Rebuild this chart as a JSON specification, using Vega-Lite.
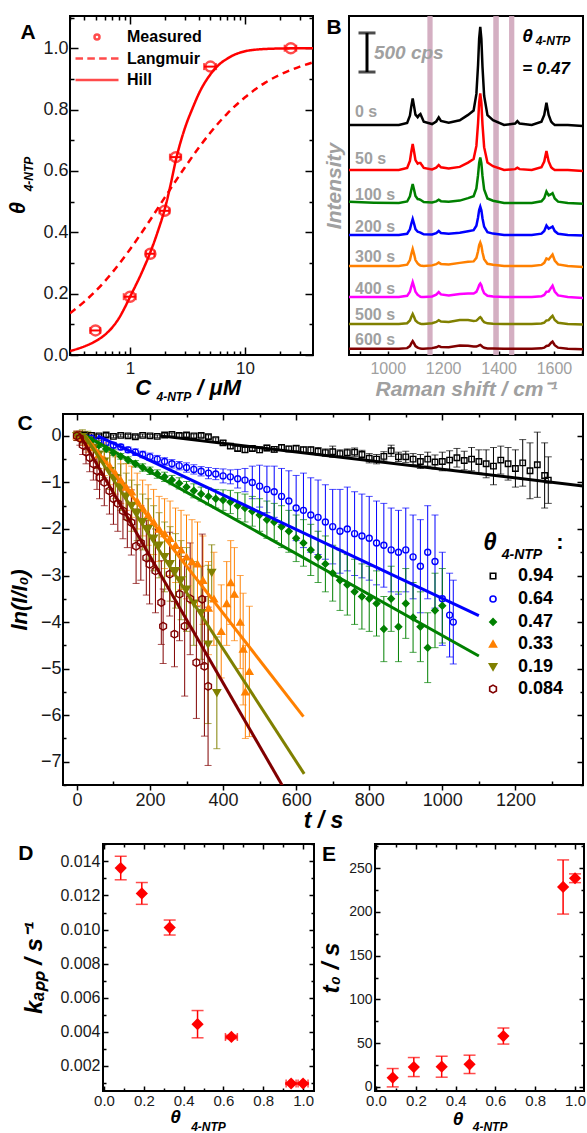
{
"$schema":"https://vega.github.io/schema/vega-lite/v6.json",
"background":"white",
"padding":{"left":6,"top":7,"right":0,"bottom":0},
"config":{"font":"Liberation Sans","view":{"stroke":"black","strokeWidth":2},
"axis":{"grid":false,"domain":false,"labelFont":"Liberation Sans","titleFont":"Liberation Sans","labelColor":"#1a1a1a","tickColor":"black","tickWidth":1.5,"labelFlush":false,"labelOverlap":false,"labelBound":false},
"legend":{"labelFont":"Liberation Sans"},"text":{"font":"Liberation Sans"}},
"resolve":{"scale":{"color":"independent","shape":"independent","fill":"independent","stroke":"independent","size":"independent","strokeDash":"independent"},"legend":{"color":"independent","shape":"independent","fill":"independent","stroke":"independent","size":"independent","strokeDash":"independent"}},
"datasets":{
"afit":[
{"series":"Langmuir","c":0.3,"th":0.136},{"series":"Langmuir","c":0.4,"th":0.174},{"series":"Langmuir","c":0.5,"th":0.208},{"series":"Langmuir","c":0.7,"th":0.269},{"series":"Langmuir","c":1,"th":0.345},{"series":"Langmuir","c":1.5,"th":0.441},{"series":"Langmuir","c":2,"th":0.513},{"series":"Langmuir","c":3,"th":0.612},{"series":"Langmuir","c":4,"th":0.678},{"series":"Langmuir","c":5,"th":0.725},{"series":"Langmuir","c":7,"th":0.787},{"series":"Langmuir","c":10,"th":0.84},{"series":"Langmuir","c":15,"th":0.888},{"series":"Langmuir","c":20,"th":0.913},{"series":"Langmuir","c":30,"th":0.94},{"series":"Langmuir","c":39,"th":0.954},
{"series":"Hill","c":0.3,"th":0.013},{"series":"Hill","c":0.4,"th":0.028},{"series":"Hill","c":0.5,"th":0.045},{"series":"Hill","c":0.6,"th":0.065},{"series":"Hill","c":0.7,"th":0.09},{"series":"Hill","c":0.8,"th":0.12},{"series":"Hill","c":0.9,"th":0.155},{"series":"Hill","c":1,"th":0.19},{"series":"Hill","c":1.25,"th":0.265},{"series":"Hill","c":1.5,"th":0.335},{"series":"Hill","c":1.75,"th":0.405},{"series":"Hill","c":2,"th":0.475},{"series":"Hill","c":2.25,"th":0.555},{"series":"Hill","c":2.5,"th":0.635},{"series":"Hill","c":3,"th":0.74},{"series":"Hill","c":3.5,"th":0.805},{"series":"Hill","c":4,"th":0.855},{"series":"Hill","c":5,"th":0.915},{"series":"Hill","c":6,"th":0.948},{"series":"Hill","c":7,"th":0.966},{"series":"Hill","c":8,"th":0.978},{"series":"Hill","c":10,"th":0.99},{"series":"Hill","c":13,"th":0.996},{"series":"Hill","c":20,"th":0.999},{"series":"Hill","c":39,"th":1.0}],
"ameas":[
{"series":"Measured","c":0.5,"th":0.08,"ce":0.05},{"series":"Measured","c":1.0,"th":0.19,"ce":0.12},{"series":"Measured","c":1.5,"th":0.33,"ce":0.13},{"series":"Measured","c":2.0,"th":0.47,"ce":0.2},{"series":"Measured","c":2.5,"th":0.645,"ce":0.28},{"series":"Measured","c":5,"th":0.94,"ce":0.6},{"series":"Measured","c":25,"th":1.0,"ce":2.9}],
"bands":[{"lo":1143,"hi":1162},{"lo":1381,"hi":1401},{"lo":1438,"hi":1457}],
"blabels":[{"s":"0 s","x":881.7,"y":3104},{"s":"50 s","x":881.7,"y":2515},{"s":"100 s","x":881.7,"y":2048},{"s":"200 s","x":881.7,"y":1638},{"s":"300 s","x":881.7,"y":1254},{"s":"400 s","x":881.7,"y":851},{"s":"500 s","x":881.7,"y":512},{"s":"600 s","x":881.7,"y":192}],
"spec":[
{"s":"0 s","x":860,"y":2944},{"s":"0 s","x":950,"y":2944},{"s":"0 s","x":1040,"y":2944},{"s":"0 s","x":1070,"y":2971},{"s":"0 s","x":1080,"y":3063},{"s":"0 s","x":1085,"y":3182},{"s":"0 s","x":1090,"y":3284},{"s":"0 s","x":1095,"y":3182},{"s":"0 s","x":1100,"y":3077},{"s":"0 s","x":1108,"y":3044},{"s":"0 s","x":1113,"y":3069},{"s":"0 s","x":1118,"y":3084},{"s":"0 s","x":1123,"y":3042},{"s":"0 s","x":1130,"y":2986},{"s":"0 s","x":1160,"y":2956},{"s":"0 s","x":1175,"y":2989},{"s":"0 s","x":1184,"y":3042},{"s":"0 s","x":1192,"y":2995},{"s":"0 s","x":1220,"y":2974},{"s":"0 s","x":1260,"y":3004},{"s":"0 s","x":1290,"y":3073},{"s":"0 s","x":1310,"y":3129},{"s":"0 s","x":1320,"y":3342},{"s":"0 s","x":1326,"y":3709},{"s":"0 s","x":1330,"y":4052},{"s":"0 s","x":1334,"y":4201},{"s":"0 s","x":1338,"y":4046},{"s":"0 s","x":1342,"y":3691},{"s":"0 s","x":1348,"y":3318},{"s":"0 s","x":1360,"y":3069},{"s":"0 s","x":1380,"y":3006},{"s":"0 s","x":1420,"y":2944},{"s":"0 s","x":1460,"y":2962},{"s":"0 s","x":1468,"y":2994},{"s":"0 s","x":1476,"y":2962},{"s":"0 s","x":1520,"y":2944},{"s":"0 s","x":1555,"y":2987},{"s":"0 s","x":1565,"y":3072},{"s":"0 s","x":1573,"y":3229},{"s":"0 s","x":1581,"y":3072},{"s":"0 s","x":1590,"y":2987},{"s":"0 s","x":1595,"y":2967},{"s":"0 s","x":1603,"y":2944},{"s":"0 s","x":1615,"y":2944},{"s":"0 s","x":1650,"y":2944},{"s":"0 s","x":1705,"y":2930},
{"s":"50 s","x":860,"y":2368},{"s":"50 s","x":950,"y":2368},{"s":"50 s","x":1040,"y":2368},{"s":"50 s","x":1070,"y":2395},{"s":"50 s","x":1080,"y":2485},{"s":"50 s","x":1085,"y":2601},{"s":"50 s","x":1090,"y":2701},{"s":"50 s","x":1095,"y":2601},{"s":"50 s","x":1100,"y":2494},{"s":"50 s","x":1108,"y":2450},{"s":"50 s","x":1113,"y":2458},{"s":"50 s","x":1118,"y":2458},{"s":"50 s","x":1123,"y":2431},{"s":"50 s","x":1130,"y":2395},{"s":"50 s","x":1160,"y":2376},{"s":"50 s","x":1175,"y":2398},{"s":"50 s","x":1184,"y":2432},{"s":"50 s","x":1192,"y":2402},{"s":"50 s","x":1220,"y":2388},{"s":"50 s","x":1260,"y":2408},{"s":"50 s","x":1290,"y":2462},{"s":"50 s","x":1310,"y":2509},{"s":"50 s","x":1320,"y":2676},{"s":"50 s","x":1326,"y":2964},{"s":"50 s","x":1330,"y":3232},{"s":"50 s","x":1334,"y":3349},{"s":"50 s","x":1338,"y":3228},{"s":"50 s","x":1342,"y":2952},{"s":"50 s","x":1348,"y":2660},{"s":"50 s","x":1360,"y":2465},{"s":"50 s","x":1380,"y":2417},{"s":"50 s","x":1420,"y":2368},{"s":"50 s","x":1460,"y":2379},{"s":"50 s","x":1468,"y":2398},{"s":"50 s","x":1476,"y":2379},{"s":"50 s","x":1520,"y":2368},{"s":"50 s","x":1555,"y":2404},{"s":"50 s","x":1565,"y":2477},{"s":"50 s","x":1573,"y":2611},{"s":"50 s","x":1581,"y":2477},{"s":"50 s","x":1590,"y":2404},{"s":"50 s","x":1595,"y":2387},{"s":"50 s","x":1603,"y":2368},{"s":"50 s","x":1615,"y":2368},{"s":"50 s","x":1650,"y":2368},{"s":"50 s","x":1705,"y":2355},
{"s":"100 s","x":860,"y":1960},{"s":"100 s","x":950,"y":1950},{"s":"100 s","x":1040,"y":1946},{"s":"100 s","x":1070,"y":1965},{"s":"100 s","x":1080,"y":2031},{"s":"100 s","x":1085,"y":2116},{"s":"100 s","x":1090,"y":2189},{"s":"100 s","x":1095,"y":2116},{"s":"100 s","x":1100,"y":2035},{"s":"100 s","x":1108,"y":1996},{"s":"100 s","x":1113,"y":1993},{"s":"100 s","x":1118,"y":1986},{"s":"100 s","x":1123,"y":1974},{"s":"100 s","x":1130,"y":1958},{"s":"100 s","x":1160,"y":1952},{"s":"100 s","x":1175,"y":1966},{"s":"100 s","x":1184,"y":1987},{"s":"100 s","x":1192,"y":1969},{"s":"100 s","x":1220,"y":1961},{"s":"100 s","x":1260,"y":1976},{"s":"100 s","x":1290,"y":2008},{"s":"100 s","x":1310,"y":2033},{"s":"100 s","x":1320,"y":2131},{"s":"100 s","x":1326,"y":2301},{"s":"100 s","x":1330,"y":2459},{"s":"100 s","x":1334,"y":2528},{"s":"100 s","x":1338,"y":2456},{"s":"100 s","x":1342,"y":2292},{"s":"100 s","x":1348,"y":2119},{"s":"100 s","x":1360,"y":2004},{"s":"100 s","x":1380,"y":1975},{"s":"100 s","x":1420,"y":1946},{"s":"100 s","x":1460,"y":1946},{"s":"100 s","x":1468,"y":1946},{"s":"100 s","x":1476,"y":1946},{"s":"100 s","x":1520,"y":1946},{"s":"100 s","x":1555,"y":1967},{"s":"100 s","x":1565,"y":2009},{"s":"100 s","x":1573,"y":2092},{"s":"100 s","x":1581,"y":2044},{"s":"100 s","x":1590,"y":2059},{"s":"100 s","x":1595,"y":2072},{"s":"100 s","x":1603,"y":2004},{"s":"100 s","x":1615,"y":1963},{"s":"100 s","x":1650,"y":1946},{"s":"100 s","x":1705,"y":1935},
{"s":"200 s","x":860,"y":1536},{"s":"200 s","x":950,"y":1536},{"s":"200 s","x":1040,"y":1536},{"s":"200 s","x":1070,"y":1552},{"s":"200 s","x":1080,"y":1608},{"s":"200 s","x":1085,"y":1680},{"s":"200 s","x":1090,"y":1741},{"s":"200 s","x":1095,"y":1680},{"s":"200 s","x":1100,"y":1611},{"s":"200 s","x":1108,"y":1578},{"s":"200 s","x":1113,"y":1573},{"s":"200 s","x":1118,"y":1566},{"s":"200 s","x":1123,"y":1557},{"s":"200 s","x":1130,"y":1545},{"s":"200 s","x":1160,"y":1542},{"s":"200 s","x":1175,"y":1559},{"s":"200 s","x":1184,"y":1587},{"s":"200 s","x":1192,"y":1562},{"s":"200 s","x":1220,"y":1551},{"s":"200 s","x":1260,"y":1566},{"s":"200 s","x":1290,"y":1584},{"s":"200 s","x":1310,"y":1597},{"s":"200 s","x":1320,"y":1655},{"s":"200 s","x":1326,"y":1760},{"s":"200 s","x":1330,"y":1857},{"s":"200 s","x":1334,"y":1900},{"s":"200 s","x":1338,"y":1854},{"s":"200 s","x":1342,"y":1751},{"s":"200 s","x":1348,"y":1643},{"s":"200 s","x":1360,"y":1572},{"s":"200 s","x":1380,"y":1554},{"s":"200 s","x":1420,"y":1536},{"s":"200 s","x":1460,"y":1536},{"s":"200 s","x":1468,"y":1536},{"s":"200 s","x":1476,"y":1536},{"s":"200 s","x":1520,"y":1536},{"s":"200 s","x":1555,"y":1553},{"s":"200 s","x":1565,"y":1588},{"s":"200 s","x":1573,"y":1656},{"s":"200 s","x":1581,"y":1618},{"s":"200 s","x":1590,"y":1633},{"s":"200 s","x":1595,"y":1645},{"s":"200 s","x":1603,"y":1586},{"s":"200 s","x":1615,"y":1551},{"s":"200 s","x":1650,"y":1536},{"s":"200 s","x":1705,"y":1530},
{"s":"300 s","x":860,"y":1139},{"s":"300 s","x":950,"y":1139},{"s":"300 s","x":1040,"y":1139},{"s":"300 s","x":1070,"y":1156},{"s":"300 s","x":1080,"y":1215},{"s":"300 s","x":1085,"y":1292},{"s":"300 s","x":1090,"y":1357},{"s":"300 s","x":1095,"y":1292},{"s":"300 s","x":1100,"y":1215},{"s":"300 s","x":1108,"y":1172},{"s":"300 s","x":1113,"y":1156},{"s":"300 s","x":1118,"y":1145},{"s":"300 s","x":1123,"y":1141},{"s":"300 s","x":1130,"y":1139},{"s":"300 s","x":1160,"y":1147},{"s":"300 s","x":1175,"y":1162},{"s":"300 s","x":1184,"y":1183},{"s":"300 s","x":1192,"y":1166},{"s":"300 s","x":1220,"y":1159},{"s":"300 s","x":1260,"y":1179},{"s":"300 s","x":1290,"y":1193},{"s":"300 s","x":1310,"y":1198},{"s":"300 s","x":1320,"y":1243},{"s":"300 s","x":1326,"y":1327},{"s":"300 s","x":1330,"y":1406},{"s":"300 s","x":1334,"y":1441},{"s":"300 s","x":1338,"y":1402},{"s":"300 s","x":1342,"y":1315},{"s":"300 s","x":1348,"y":1227},{"s":"300 s","x":1360,"y":1168},{"s":"300 s","x":1380,"y":1154},{"s":"300 s","x":1420,"y":1139},{"s":"300 s","x":1460,"y":1139},{"s":"300 s","x":1468,"y":1139},{"s":"300 s","x":1476,"y":1139},{"s":"300 s","x":1520,"y":1139},{"s":"300 s","x":1555,"y":1153},{"s":"300 s","x":1565,"y":1180},{"s":"300 s","x":1573,"y":1236},{"s":"300 s","x":1581,"y":1222},{"s":"300 s","x":1590,"y":1265},{"s":"300 s","x":1595,"y":1286},{"s":"300 s","x":1603,"y":1209},{"s":"300 s","x":1615,"y":1160},{"s":"300 s","x":1650,"y":1139},{"s":"300 s","x":1705,"y":1125},
{"s":"400 s","x":860,"y":742},{"s":"400 s","x":950,"y":742},{"s":"400 s","x":1040,"y":742},{"s":"400 s","x":1070,"y":757},{"s":"400 s","x":1080,"y":809},{"s":"400 s","x":1085,"y":876},{"s":"400 s","x":1090,"y":934},{"s":"400 s","x":1095,"y":876},{"s":"400 s","x":1100,"y":809},{"s":"400 s","x":1108,"y":771},{"s":"400 s","x":1113,"y":757},{"s":"400 s","x":1118,"y":745},{"s":"400 s","x":1123,"y":742},{"s":"400 s","x":1130,"y":742},{"s":"400 s","x":1160,"y":750},{"s":"400 s","x":1175,"y":772},{"s":"400 s","x":1184,"y":806},{"s":"400 s","x":1192,"y":776},{"s":"400 s","x":1220,"y":762},{"s":"400 s","x":1260,"y":782},{"s":"400 s","x":1290,"y":788},{"s":"400 s","x":1310,"y":786},{"s":"400 s","x":1320,"y":808},{"s":"400 s","x":1326,"y":854},{"s":"400 s","x":1330,"y":896},{"s":"400 s","x":1334,"y":916},{"s":"400 s","x":1338,"y":892},{"s":"400 s","x":1342,"y":842},{"s":"400 s","x":1348,"y":792},{"s":"400 s","x":1360,"y":759},{"s":"400 s","x":1380,"y":750},{"s":"400 s","x":1420,"y":742},{"s":"400 s","x":1460,"y":742},{"s":"400 s","x":1468,"y":742},{"s":"400 s","x":1476,"y":742},{"s":"400 s","x":1520,"y":742},{"s":"400 s","x":1555,"y":751},{"s":"400 s","x":1565,"y":769},{"s":"400 s","x":1573,"y":809},{"s":"400 s","x":1581,"y":811},{"s":"400 s","x":1590,"y":863},{"s":"400 s","x":1595,"y":887},{"s":"400 s","x":1603,"y":812},{"s":"400 s","x":1615,"y":763},{"s":"400 s","x":1650,"y":742},{"s":"400 s","x":1705,"y":730},
{"s":"500 s","x":860,"y":397},{"s":"500 s","x":950,"y":397},{"s":"500 s","x":1040,"y":397},{"s":"500 s","x":1070,"y":407},{"s":"500 s","x":1080,"y":442},{"s":"500 s","x":1085,"y":487},{"s":"500 s","x":1090,"y":525},{"s":"500 s","x":1095,"y":487},{"s":"500 s","x":1100,"y":442},{"s":"500 s","x":1108,"y":416},{"s":"500 s","x":1113,"y":407},{"s":"500 s","x":1118,"y":400},{"s":"500 s","x":1123,"y":397},{"s":"500 s","x":1130,"y":397},{"s":"500 s","x":1160,"y":407},{"s":"500 s","x":1175,"y":423},{"s":"500 s","x":1184,"y":445},{"s":"500 s","x":1192,"y":428},{"s":"500 s","x":1220,"y":422},{"s":"500 s","x":1260,"y":447},{"s":"500 s","x":1290,"y":447},{"s":"500 s","x":1310,"y":436},{"s":"500 s","x":1320,"y":440},{"s":"500 s","x":1326,"y":458},{"s":"500 s","x":1330,"y":475},{"s":"500 s","x":1334,"y":484},{"s":"500 s","x":1338,"y":470},{"s":"500 s","x":1342,"y":443},{"s":"500 s","x":1348,"y":420},{"s":"500 s","x":1360,"y":405},{"s":"500 s","x":1380,"y":401},{"s":"500 s","x":1420,"y":397},{"s":"500 s","x":1460,"y":397},{"s":"500 s","x":1468,"y":397},{"s":"500 s","x":1476,"y":397},{"s":"500 s","x":1520,"y":397},{"s":"500 s","x":1555,"y":403},{"s":"500 s","x":1565,"y":415},{"s":"500 s","x":1573,"y":442},{"s":"500 s","x":1581,"y":446},{"s":"500 s","x":1590,"y":485},{"s":"500 s","x":1595,"y":502},{"s":"500 s","x":1603,"y":448},{"s":"500 s","x":1615,"y":412},{"s":"500 s","x":1650,"y":397},{"s":"500 s","x":1705,"y":390},
{"s":"600 s","x":860,"y":80},{"s":"600 s","x":950,"y":80},{"s":"600 s","x":1040,"y":80},{"s":"600 s","x":1070,"y":88},{"s":"600 s","x":1080,"y":114},{"s":"600 s","x":1085,"y":149},{"s":"600 s","x":1090,"y":178},{"s":"600 s","x":1095,"y":149},{"s":"600 s","x":1100,"y":114},{"s":"600 s","x":1108,"y":95},{"s":"600 s","x":1113,"y":88},{"s":"600 s","x":1118,"y":82},{"s":"600 s","x":1123,"y":80},{"s":"600 s","x":1130,"y":80},{"s":"600 s","x":1160,"y":88},{"s":"600 s","x":1175,"y":99},{"s":"600 s","x":1184,"y":114},{"s":"600 s","x":1192,"y":103},{"s":"600 s","x":1220,"y":100},{"s":"600 s","x":1260,"y":120},{"s":"600 s","x":1290,"y":118},{"s":"600 s","x":1310,"y":109},{"s":"600 s","x":1320,"y":108},{"s":"600 s","x":1326,"y":116},{"s":"600 s","x":1330,"y":123},{"s":"600 s","x":1334,"y":128},{"s":"600 s","x":1338,"y":119},{"s":"600 s","x":1342,"y":104},{"s":"600 s","x":1348,"y":92},{"s":"600 s","x":1360,"y":84},{"s":"600 s","x":1380,"y":82},{"s":"600 s","x":1420,"y":80},{"s":"600 s","x":1460,"y":80},{"s":"600 s","x":1468,"y":80},{"s":"600 s","x":1476,"y":80},{"s":"600 s","x":1520,"y":80},{"s":"600 s","x":1555,"y":85},{"s":"600 s","x":1565,"y":94},{"s":"600 s","x":1573,"y":115},{"s":"600 s","x":1581,"y":121},{"s":"600 s","x":1590,"y":157},{"s":"600 s","x":1595,"y":172},{"s":"600 s","x":1603,"y":125},{"s":"600 s","x":1615,"y":94},{"s":"600 s","x":1650,"y":80},{"s":"600 s","x":1705,"y":75}],
"c":[
{"s":"0.94","t":0,"v":0,"e":0.03},{"s":"0.94","t":20,"v":0.02,"e":0.03},{"s":"0.94","t":40,"v":0.01,"e":0.03},{"s":"0.94","t":60,"v":0,"e":0.03},{"s":"0.94","t":80,"v":0.02,"e":0.03},{"s":"0.94","t":100,"v":-0.01,"e":0.03},{"s":"0.94","t":120,"v":0.01,"e":0.03},{"s":"0.94","t":140,"v":0,"e":0.03},{"s":"0.94","t":160,"v":-0.02,"e":0.03},{"s":"0.94","t":180,"v":0.01,"e":0.03},{"s":"0.94","t":200,"v":0,"e":0.03},{"s":"0.94","t":220,"v":-0.01,"e":0.03},{"s":"0.94","t":240,"v":0.02,"e":0.03},{"s":"0.94","t":260,"v":0.03,"e":0.03},{"s":"0.94","t":280,"v":0.01,"e":0.04},{"s":"0.94","t":300,"v":0.02,"e":0.04},{"s":"0.94","t":320,"v":0,"e":0.04},{"s":"0.94","t":340,"v":0.01,"e":0.04},{"s":"0.94","t":360,"v":-0.02,"e":0.04},{"s":"0.94","t":380,"v":-0.08,"e":0.04},{"s":"0.94","t":400,"v":-0.15,"e":0.05},{"s":"0.94","t":420,"v":-0.22,"e":0.05},{"s":"0.94","t":440,"v":-0.27,"e":0.05},{"s":"0.94","t":460,"v":-0.3,"e":0.05},{"s":"0.94","t":480,"v":-0.27,"e":0.05},{"s":"0.94","t":500,"v":-0.3,"e":0.06},{"s":"0.94","t":520,"v":-0.26,"e":0.06},{"s":"0.94","t":540,"v":-0.29,"e":0.06},{"s":"0.94","t":560,"v":-0.25,"e":0.06},{"s":"0.94","t":580,"v":-0.28,"e":0.06},{"s":"0.94","t":600,"v":-0.27,"e":0.07},{"s":"0.94","t":620,"v":-0.3,"e":0.07},{"s":"0.94","t":640,"v":-0.3,"e":0.07},{"s":"0.94","t":660,"v":-0.33,"e":0.08},{"s":"0.94","t":680,"v":-0.36,"e":0.08},{"s":"0.94","t":700,"v":-0.34,"e":0.12},{"s":"0.94","t":720,"v":-0.38,"e":0.08},{"s":"0.94","t":740,"v":-0.36,"e":0.08},{"s":"0.94","t":760,"v":-0.35,"e":0.09},{"s":"0.94","t":780,"v":-0.4,"e":0.09},{"s":"0.94","t":800,"v":-0.48,"e":0.1},{"s":"0.94","t":820,"v":-0.5,"e":0.1},{"s":"0.94","t":840,"v":-0.44,"e":0.1},{"s":"0.94","t":860,"v":-0.32,"e":0.12},{"s":"0.94","t":880,"v":-0.45,"e":0.1},{"s":"0.94","t":900,"v":-0.45,"e":0.12},{"s":"0.94","t":920,"v":-0.5,"e":0.12},{"s":"0.94","t":940,"v":-0.55,"e":0.15},{"s":"0.94","t":960,"v":-0.5,"e":0.15},{"s":"0.94","t":980,"v":-0.56,"e":0.15},{"s":"0.94","t":1000,"v":-0.55,"e":0.2},{"s":"0.94","t":1020,"v":-0.52,"e":0.2},{"s":"0.94","t":1040,"v":-0.47,"e":0.2},{"s":"0.94","t":1060,"v":-0.53,"e":0.2},{"s":"0.94","t":1080,"v":-0.5,"e":0.25},{"s":"0.94","t":1100,"v":-0.55,"e":0.25},{"s":"0.94","t":1120,"v":-0.6,"e":0.3},{"s":"0.94","t":1140,"v":-0.65,"e":0.4},{"s":"0.94","t":1160,"v":-0.52,"e":0.3},{"s":"0.94","t":1180,"v":-0.6,"e":0.35},{"s":"0.94","t":1200,"v":-0.7,"e":0.4},{"s":"0.94","t":1220,"v":-0.58,"e":0.5},{"s":"0.94","t":1240,"v":-0.75,"e":0.6},{"s":"0.94","t":1260,"v":-0.62,"e":0.7},{"s":"0.94","t":1280,"v":-0.85,"e":0.7},{"s":"0.94","t":1290,"v":-0.95,"e":0.5},
{"s":"0.64","t":0,"v":0,"e":0.05},{"s":"0.64","t":20,"v":-0.02,"e":0.05},{"s":"0.64","t":40,"v":-0.05,"e":0.05},{"s":"0.64","t":60,"v":-0.1,"e":0.05},{"s":"0.64","t":80,"v":-0.15,"e":0.05},{"s":"0.64","t":100,"v":-0.2,"e":0.06},{"s":"0.64","t":120,"v":-0.24,"e":0.06},{"s":"0.64","t":140,"v":-0.3,"e":0.06},{"s":"0.64","t":160,"v":-0.35,"e":0.07},{"s":"0.64","t":180,"v":-0.4,"e":0.07},{"s":"0.64","t":200,"v":-0.45,"e":0.08},{"s":"0.64","t":220,"v":-0.5,"e":0.08},{"s":"0.64","t":240,"v":-0.55,"e":0.08},{"s":"0.64","t":260,"v":-0.6,"e":0.09},{"s":"0.64","t":280,"v":-0.64,"e":0.09},{"s":"0.64","t":300,"v":-0.68,"e":0.1},{"s":"0.64","t":320,"v":-0.72,"e":0.1},{"s":"0.64","t":340,"v":-0.76,"e":0.1},{"s":"0.64","t":360,"v":-0.8,"e":0.12},{"s":"0.64","t":380,"v":-0.82,"e":0.12},{"s":"0.64","t":400,"v":-0.86,"e":0.15},{"s":"0.64","t":420,"v":-0.88,"e":0.15},{"s":"0.64","t":440,"v":-0.92,"e":0.2},{"s":"0.64","t":460,"v":-0.95,"e":0.25},{"s":"0.64","t":480,"v":-1.0,"e":0.35},{"s":"0.64","t":500,"v":-1.08,"e":0.45},{"s":"0.64","t":520,"v":-1.15,"e":0.5},{"s":"0.64","t":540,"v":-1.2,"e":0.55},{"s":"0.64","t":560,"v":-1.3,"e":0.6},{"s":"0.64","t":580,"v":-1.4,"e":0.65},{"s":"0.64","t":600,"v":-1.55,"e":0.7},{"s":"0.64","t":620,"v":-1.6,"e":0.8},{"s":"0.64","t":640,"v":-1.7,"e":0.8},{"s":"0.64","t":660,"v":-1.75,"e":0.8},{"s":"0.64","t":680,"v":-1.85,"e":0.8},{"s":"0.64","t":700,"v":-1.95,"e":0.8},{"s":"0.64","t":720,"v":-2.05,"e":0.9},{"s":"0.64","t":740,"v":-2.0,"e":0.9},{"s":"0.64","t":760,"v":-2.1,"e":0.9},{"s":"0.64","t":780,"v":-2.15,"e":0.9},{"s":"0.64","t":800,"v":-2.2,"e":0.9},{"s":"0.64","t":820,"v":-2.3,"e":0.9},{"s":"0.64","t":840,"v":-2.35,"e":0.9},{"s":"0.64","t":860,"v":-2.45,"e":0.9},{"s":"0.64","t":880,"v":-2.5,"e":0.9},{"s":"0.64","t":900,"v":-2.45,"e":0.9},{"s":"0.64","t":920,"v":-2.6,"e":0.9},{"s":"0.64","t":940,"v":-2.8,"e":1.0},{"s":"0.64","t":960,"v":-2.5,"e":1.0},{"s":"0.64","t":980,"v":-2.7,"e":1.0},{"s":"0.64","t":1000,"v":-3.5,"e":1.0},{"s":"0.64","t":1020,"v":-3.85,"e":0.9},{"s":"0.64","t":1030,"v":-4.0,"e":0.9},
{"s":"0.47","t":0,"v":0,"e":0.05},{"s":"0.47","t":20,"v":-0.03,"e":0.05},{"s":"0.47","t":40,"v":-0.1,"e":0.05},{"s":"0.47","t":60,"v":-0.2,"e":0.05},{"s":"0.47","t":80,"v":-0.28,"e":0.06},{"s":"0.47","t":100,"v":-0.36,"e":0.06},{"s":"0.47","t":120,"v":-0.44,"e":0.06},{"s":"0.47","t":140,"v":-0.52,"e":0.07},{"s":"0.47","t":160,"v":-0.6,"e":0.07},{"s":"0.47","t":180,"v":-0.68,"e":0.08},{"s":"0.47","t":200,"v":-0.75,"e":0.08},{"s":"0.47","t":220,"v":-0.82,"e":0.09},{"s":"0.47","t":240,"v":-0.88,"e":0.1},{"s":"0.47","t":260,"v":-0.95,"e":0.1},{"s":"0.47","t":280,"v":-1.02,"e":0.12},{"s":"0.47","t":300,"v":-1.1,"e":0.12},{"s":"0.47","t":320,"v":-1.18,"e":0.15},{"s":"0.47","t":340,"v":-1.25,"e":0.15},{"s":"0.47","t":360,"v":-1.3,"e":0.18},{"s":"0.47","t":380,"v":-1.35,"e":0.2},{"s":"0.47","t":400,"v":-1.38,"e":0.22},{"s":"0.47","t":420,"v":-1.42,"e":0.25},{"s":"0.47","t":440,"v":-1.5,"e":0.28},{"s":"0.47","t":460,"v":-1.55,"e":0.3},{"s":"0.47","t":480,"v":-1.62,"e":0.32},{"s":"0.47","t":500,"v":-1.7,"e":0.35},{"s":"0.47","t":520,"v":-1.8,"e":0.4},{"s":"0.47","t":540,"v":-1.85,"e":0.4},{"s":"0.47","t":560,"v":-1.95,"e":0.45},{"s":"0.47","t":580,"v":-2.05,"e":0.45},{"s":"0.47","t":600,"v":-2.2,"e":0.5},{"s":"0.47","t":620,"v":-2.3,"e":0.5},{"s":"0.47","t":640,"v":-2.45,"e":0.55},{"s":"0.47","t":660,"v":-2.6,"e":0.55},{"s":"0.47","t":680,"v":-2.75,"e":0.6},{"s":"0.47","t":700,"v":-2.95,"e":0.6},{"s":"0.47","t":720,"v":-3.1,"e":0.65},{"s":"0.47","t":740,"v":-3.2,"e":0.65},{"s":"0.47","t":760,"v":-3.35,"e":0.7},{"s":"0.47","t":780,"v":-3.45,"e":0.7},{"s":"0.47","t":800,"v":-3.5,"e":0.7},{"s":"0.47","t":820,"v":-3.6,"e":0.7},{"s":"0.47","t":840,"v":-4.15,"e":0.7},{"s":"0.47","t":860,"v":-3.5,"e":0.7},{"s":"0.47","t":880,"v":-4.1,"e":0.75},{"s":"0.47","t":900,"v":-3.6,"e":0.75},{"s":"0.47","t":920,"v":-3.9,"e":0.75},{"s":"0.47","t":940,"v":-4.1,"e":0.75},{"s":"0.47","t":960,"v":-4.55,"e":0.75},{"s":"0.47","t":980,"v":-3.75,"e":0.8},{"s":"0.47","t":1000,"v":-3.65,"e":0.8},
{"s":"0.33","t":0,"v":0,"e":0.1},{"s":"0.33","t":15,"v":-0.05,"e":0.15},{"s":"0.33","t":30,"v":-0.15,"e":0.2},{"s":"0.33","t":45,"v":-0.25,"e":0.25},{"s":"0.33","t":60,"v":-0.4,"e":0.3},{"s":"0.33","t":75,"v":-0.5,"e":0.35},{"s":"0.33","t":90,"v":-0.65,"e":0.4},{"s":"0.33","t":105,"v":-0.8,"e":0.45},{"s":"0.33","t":120,"v":-0.95,"e":0.5},{"s":"0.33","t":135,"v":-1.1,"e":0.5},{"s":"0.33","t":150,"v":-1.2,"e":0.55},{"s":"0.33","t":165,"v":-1.4,"e":0.6},{"s":"0.33","t":180,"v":-1.55,"e":0.6},{"s":"0.33","t":195,"v":-1.7,"e":0.65},{"s":"0.33","t":210,"v":-1.85,"e":0.7},{"s":"0.33","t":225,"v":-2.0,"e":0.7},{"s":"0.33","t":240,"v":-2.1,"e":0.75},{"s":"0.33","t":255,"v":-2.2,"e":0.8},{"s":"0.33","t":270,"v":-2.35,"e":0.8},{"s":"0.33","t":285,"v":-2.45,"e":0.85},{"s":"0.33","t":300,"v":-2.6,"e":0.9},{"s":"0.33","t":315,"v":-2.7,"e":0.9},{"s":"0.33","t":330,"v":-2.75,"e":0.9},{"s":"0.33","t":345,"v":-3.1,"e":0.95},{"s":"0.33","t":360,"v":-3.7,"e":1.0},{"s":"0.33","t":375,"v":-3.5,"e":1.0},{"s":"0.33","t":395,"v":-4.2,"e":1.0},{"s":"0.33","t":410,"v":-3.6,"e":0.9},{"s":"0.33","t":421,"v":-3.15,"e":0.9},{"s":"0.33","t":431,"v":-3.4,"e":1.0},{"s":"0.33","t":447,"v":-4.0,"e":1.0},{"s":"0.33","t":455,"v":-4.58,"e":1.2},{"s":"0.33","t":461,"v":-5.5,"e":1.0},{"s":"0.33","t":472,"v":-5.06,"e":1.4},
{"s":"0.19","t":0,"v":0,"e":0.1},{"s":"0.19","t":15,"v":-0.02,"e":0.15},{"s":"0.19","t":30,"v":-0.1,"e":0.2},{"s":"0.19","t":45,"v":-0.25,"e":0.25},{"s":"0.19","t":60,"v":-0.4,"e":0.3},{"s":"0.19","t":75,"v":-0.55,"e":0.35},{"s":"0.19","t":90,"v":-0.75,"e":0.4},{"s":"0.19","t":105,"v":-0.9,"e":0.45},{"s":"0.19","t":120,"v":-1.1,"e":0.5},{"s":"0.19","t":135,"v":-1.3,"e":0.5},{"s":"0.19","t":150,"v":-1.5,"e":0.55},{"s":"0.19","t":165,"v":-1.65,"e":0.6},{"s":"0.19","t":180,"v":-1.85,"e":0.6},{"s":"0.19","t":195,"v":-2.0,"e":0.65},{"s":"0.19","t":210,"v":-2.2,"e":0.7},{"s":"0.19","t":225,"v":-2.35,"e":0.7},{"s":"0.19","t":240,"v":-2.6,"e":0.75},{"s":"0.19","t":255,"v":-2.75,"e":0.8},{"s":"0.19","t":270,"v":-2.9,"e":0.8},{"s":"0.19","t":285,"v":-3.1,"e":0.85},{"s":"0.19","t":300,"v":-3.3,"e":0.9},{"s":"0.19","t":320,"v":-3.6,"e":0.9},{"s":"0.19","t":340,"v":-3.8,"e":1.0},{"s":"0.19","t":359,"v":-4.48,"e":1.7},{"s":"0.19","t":369,"v":-2.94,"e":0.6},{"s":"0.19","t":383,"v":-5.52,"e":1.2},
{"s":"0.084","t":0,"v":0,"e":0.1},{"s":"0.084","t":8,"v":-0.05,"e":0.15},{"s":"0.084","t":16,"v":-0.2,"e":0.2},{"s":"0.084","t":25,"v":-0.35,"e":0.25},{"s":"0.084","t":35,"v":-0.47,"e":0.3},{"s":"0.084","t":45,"v":-0.6,"e":0.35},{"s":"0.084","t":55,"v":-0.75,"e":0.4},{"s":"0.084","t":62,"v":-0.9,"e":0.45},{"s":"0.084","t":75,"v":-1.0,"e":0.5},{"s":"0.084","t":89,"v":-1.18,"e":0.5},{"s":"0.084","t":100,"v":-1.35,"e":0.55},{"s":"0.084","t":112,"v":-1.45,"e":0.6},{"s":"0.084","t":126,"v":-1.61,"e":0.6},{"s":"0.084","t":138,"v":-1.75,"e":0.65},{"s":"0.084","t":149,"v":-1.86,"e":0.7},{"s":"0.084","t":162,"v":-2.37,"e":0.8},{"s":"0.084","t":175,"v":-2.3,"e":0.8},{"s":"0.084","t":190,"v":-2.62,"e":0.8},{"s":"0.084","t":199,"v":-2.76,"e":0.85},{"s":"0.084","t":215,"v":-2.9,"e":0.9},{"s":"0.084","t":231,"v":-3.58,"e":0.9},{"s":"0.084","t":236,"v":-4.09,"e":0.8},{"s":"0.084","t":254,"v":-2.97,"e":0.9},{"s":"0.084","t":267,"v":-4.26,"e":0.7},{"s":"0.084","t":281,"v":-3.4,"e":1.0},{"s":"0.084","t":295,"v":-4.09,"e":1.5},{"s":"0.084","t":310,"v":-3.5,"e":1.2},{"s":"0.084","t":327,"v":-4.87,"e":1.2},{"s":"0.084","t":343,"v":-3.51,"e":1.4},{"s":"0.084","t":349,"v":-4.95,"e":1.5},{"s":"0.084","t":359,"v":-5.38,"e":1.7}],
"cfit":[
{"s":"0.94","t":228,"v":0},{"s":"0.94","t":1385,"v":-1.076},
{"s":"0.64","t":57,"v":0},{"s":"0.64","t":1100,"v":-3.86},
{"s":"0.47","t":25,"v":0},{"s":"0.47","t":1100,"v":-4.73},
{"s":"0.33","t":23,"v":0},{"s":"0.33","t":620,"v":-6.03},
{"s":"0.19","t":22,"v":0},{"s":"0.19","t":622,"v":-7.26},
{"s":"0.084","t":10,"v":0},{"s":"0.084","t":565,"v":-7.55}],
"cleg":[{"s":"0.94","ts":1138.8,"tl":1207,"v":-3.01},{"s":"0.64","ts":1138.8,"tl":1207,"v":-3.504},{"s":"0.47","ts":1138.8,"tl":1207,"v":-3.998},{"s":"0.33","ts":1138.8,"tl":1207,"v":-4.47},{"s":"0.19","ts":1138.8,"tl":1207,"v":-4.965},{"s":"0.084","ts":1138.8,"tl":1207,"v":-5.438}],
"d":[{"th":0.084,"k":0.01361,"ke":0.00069},{"th":0.19,"k":0.01212,"ke":0.00064},{"th":0.33,"k":0.01012,"ke":0.00044},{"th":0.47,"k":0.00445,"ke":0.0008},{"th":0.64,"k":0.0037,"ke":0.0001},{"th":0.94,"k":0.00097,"ke":0.00005},{"th":1.0,"k":0.00097,"ke":0.00005}],
"dh":[{"th":0.64,"k":0.0037,"the":0.03},{"th":0.94,"k":0.00097,"the":0.025},{"th":1.0,"k":0.00097,"the":0.025}],
"e":[{"th":0.084,"t0":10.3,"te":10.5},{"th":0.19,"t0":22.5,"te":10.9},{"th":0.33,"t0":22.9,"te":12},{"th":0.47,"t0":25.6,"te":10.5},{"th":0.64,"t0":58,"te":9.2},{"th":0.94,"t0":228.6,"te":31},{"th":1.0,"t0":238.6,"te":5}]
},
"spacing":59,
"bounds":"flush",
"vconcat":[
{"hconcat":[
 {"width":7,"height":339,"data":{"values":[{"a":1}]},"mark":{"type":"point","opacity":0},"view":{"stroke":null}},
 {"hconcat":[
  {"width":243,"height":339,
   "resolve":{"axis":{"x":"independent","y":"independent"}},
   "layer":[
    {"data":{"name":"afit"},"mark":{"type":"line","color":"#ff0000","strokeWidth":2.5,"interpolate":"monotone","clip":true},
     "encoding":{
      "x":{"field":"c","type":"quantitative","scale":{"type":"log","domain":[0.3,39],"nice":false},
       "axis":{"orient":"bottom","values":[0.3,0.4,0.5,0.6,0.7,0.8,0.9,1,2,3,4,5,6,7,8,9,10,20,30],"format":"~g","labelExpr":"datum.value==1||datum.value==10?datum.label:''","tickSize":{"condition":{"test":"datum.value==1||datum.value==10","value":-8},"value":-4},"labelPadding":13,"labelFontSize":17,"title":null}},
      "y":{"field":"th","type":"quantitative","scale":{"domain":[0,1.105],"nice":false,"zero":false},
       "axis":{"orient":"left","values":[0,0.1,0.2,0.3,0.4,0.5,0.6,0.7,0.8,0.9,1,1.1],"format":".1f","labelExpr":"round(datum.value*10)%2==0?datum.label:''","tickSize":{"condition":{"test":"round(datum.value*10)%2==0","value":-8},"value":-4},"labelPadding":10,"labelFontSize":18,"title":null}},
      "strokeDash":{"field":"series","type":"nominal","scale":{"domain":["Langmuir","Hill"],"range":[[7,5],[1,0]]},"legend":null}}},
    {"data":{"name":"ameas"},"mark":{"type":"errorbar","color":"#ff0000","thickness":2,"ticks":true,"size":7},
     "encoding":{
      "x":{"field":"c","type":"quantitative","axis":{"orient":"top","values":[0.3,0.4,0.5,0.6,0.7,0.8,0.9,1,2,3,4,5,6,7,8,9,10,20,30],"labels":false,"tickSize":{"condition":{"test":"datum.value==1||datum.value==10","value":-8},"value":-4},"title":null}},
      "xError":{"field":"ce"},
      "y":{"field":"th","type":"quantitative","axis":{"orient":"right","values":[0,0.1,0.2,0.3,0.4,0.5,0.6,0.7,0.8,0.9,1,1.1],"labels":false,"tickSize":{"condition":{"test":"round(datum.value*10)%2==0","value":-8},"value":-4},"title":null}}}},
    {"data":{"name":"ameas"},"mark":{"type":"point","filled":false,"color":"#ff0000","strokeWidth":2.5,"size":462},
     "encoding":{
      "x":{"field":"c","type":"quantitative","axis":null},
      "y":{"field":"th","type":"quantitative","axis":null},
      "shape":{"field":"series","type":"nominal","scale":{"domain":["Measured","Langmuir","Hill"],"range":["M-0.465,0A0.465,0.465,0,1,1,0.465,0A0.465,0.465,0,1,1,-0.465,0Z","M-4,0L-2.6,0M-1.8,0L-0.4,0M0.4,0L1.8,0M2.6,0L4,0","M-4,0L4,0"]},
       "legend":{"orient":"none","legendX":26,"legendY":13,"title":null,"padding":0,"labelFontSize":16,"labelFontWeight":"bold","labelColor":"black","labelOffset":22,"rowPadding":5.5,"symbolSize":115.6,"symbolStrokeWidth":2.5,"symbolStrokeColor":"#ff0000","symbolFillColor":"transparent"}}}},
    {"data":{"values":[{"c":0.1294,"th":1.0495,"txt":"A"}]},"mark":{"type":"text","fontSize":21,"fontWeight":"bold","color":"black"},
     "encoding":{"x":{"field":"c","type":"quantitative","axis":null},"y":{"field":"th","type":"quantitative","axis":null},"text":{"field":"txt"}}},
    {"data":{"values":[{"c":0.1066,"th":0.479,"txt":"θ"}]},"mark":{"type":"text","fontSize":22,"fontWeight":"bold","fontStyle":"italic","angle":270,"color":"black"},
     "encoding":{"x":{"field":"c","type":"quantitative","axis":null},"y":{"field":"th","type":"quantitative","axis":null},"text":{"field":"txt"}}},
    {"data":{"values":[{"c":0.1328,"th":0.59,"txt":"4-NTP"},{"c":2.4,"th":-0.138,"txt":"4-NTP"}]},"mark":{"type":"text","fontSize":12,"fontWeight":"bold","fontStyle":"italic","color":"black"},
     "encoding":{"x":{"field":"c","type":"quantitative","axis":null},"y":{"field":"th","type":"quantitative","axis":null},"text":{"field":"txt"},"angle":{"condition":{"test":"datum.th>0","value":270},"value":0}}},
    {"data":{"values":[{"c":1.3,"th":-0.108,"txt":"C"},{"c":5.95,"th":-0.106,"txt":"/ μM"}]},"mark":{"type":"text","fontSize":22,"fontWeight":"bold","fontStyle":"italic","color":"black"},
     "encoding":{"x":{"field":"c","type":"quantitative","axis":null},"y":{"field":"th","type":"quantitative","axis":null},"text":{"field":"txt"}}}
   ]},
  {"width":234,"height":339,
   "resolve":{"axis":{"x":"independent","y":"independent"}},
   "layer":[
    {"data":{"name":"bands"},"mark":{"type":"rect","color":"#cfa6bb","opacity":0.9},
     "encoding":{"x":{"field":"lo","type":"quantitative","axis":null},"x2":{"field":"hi"}}},
    {"data":{"name":"spec"},"mark":{"type":"line","strokeWidth":2.5,"clip":true},
     "encoding":{
      "x":{"field":"x","type":"quantitative","scale":{"domain":[860,1705],"nice":false,"zero":false},
       "axis":{"orient":"bottom","values":[900,1000,1100,1200,1300,1400,1500,1600,1700],"format":"d","labelExpr":"datum.value%200==0?datum.label:''","tickSize":-4,"labelPadding":9,"labelFontSize":16,"labelColor":"#a0a0a0","title":"Raman shift / cm⁻¹","titleColor":"#a0a0a0","titleFontSize":21,"titleFontStyle":"italic","titleFontWeight":"bold","titlePadding":2}},
      "y":{"field":"y","type":"quantitative","scale":{"domain":[0,4339],"nice":false},
       "axis":{"orient":"left","labels":false,"ticks":false,"title":"Intensity","titleColor":"#a0a0a0","titleFontSize":21,"titleFontStyle":"italic","titleFontWeight":"bold","titlePadding":5}},
      "color":{"field":"s","type":"nominal","scale":{"domain":["0 s","50 s","100 s","200 s","300 s","400 s","500 s","600 s"],"range":["#000000","#ff0000","#008000","#0000ff","#ff8000","#ff00ff","#808000","#800000"]},"legend":null}}},
    {"data":{"values":[{"x":925,"y":3872,"e":250}]},"mark":{"type":"errorbar","color":"black","thickness":3,"ticks":true,"size":17},
     "encoding":{"x":{"field":"x","type":"quantitative","axis":null},"y":{"field":"y","type":"quantitative","axis":null},"yError":{"field":"e"}}},
    {"data":{"values":[{"x":950,"y":3869,"txt":"500 cps"}]},"mark":{"type":"text","align":"left","fontSize":19,"fontWeight":"bold","fontStyle":"italic","color":"#a0a0a0"},
     "encoding":{"x":{"field":"x","type":"quantitative","axis":null},"y":{"field":"y","type":"quantitative","axis":null},"text":{"field":"txt"}}},
    {"data":{"name":"blabels"},"mark":{"type":"text","align":"left","fontSize":16,"fontWeight":"bold","color":"#a0a0a0"},
     "encoding":{"x":{"field":"x","type":"quantitative","axis":null},"y":{"field":"y","type":"quantitative","axis":null},"text":{"field":"s"}}},
    {"data":{"values":[{"x":1504.6,"y":4083,"txt":"θ"}]},"mark":{"type":"text","fontSize":19,"fontWeight":"bold","fontStyle":"italic","color":"black"},
     "encoding":{"x":{"field":"x","type":"quantitative","axis":null},"y":{"field":"y","type":"quantitative","axis":null},"text":{"field":"txt"}}},
    {"data":{"values":[{"x":1596.7,"y":4019,"txt":"4-NTP"}]},"mark":{"type":"text","fontSize":12,"fontWeight":"bold","fontStyle":"italic","color":"black"},
     "encoding":{"x":{"field":"x","type":"quantitative","axis":null},"y":{"field":"y","type":"quantitative","axis":null},"text":{"field":"txt"}}},
    {"data":{"values":[{"x":1571.5,"y":3661,"txt":"= 0.47"}]},"mark":{"type":"text","fontSize":17,"fontWeight":"bold","fontStyle":"italic","color":"black"},
     "encoding":{"x":{"field":"x","type":"quantitative","axis":null},"y":{"field":"y","type":"quantitative","axis":null},"text":{"field":"txt"}}},
    {"data":{"values":[{"x":805.8,"y":4186,"txt":"B"}]},"mark":{"type":"text","fontSize":21,"fontWeight":"bold","color":"black"},
     "encoding":{"x":{"field":"x","type":"quantitative","axis":null},"y":{"field":"y","type":"quantitative","axis":null},"text":{"field":"txt"}}}
   ]}
 ],"spacing":36,"bounds":"flush"}
],"spacing":0,"bounds":"flush"},
{"width":1,"height":280,"data":{"values":[{"a":1}]},"mark":{"type":"point","opacity":0},"view":{"stroke":null}},
{"width":520,"height":371,
 "resolve":{"axis":{"x":"independent","y":"independent"}},
 "layer":[
  {"data":{"name":"c"},"mark":{"type":"errorbar","ticks":true,"size":7,"thickness":1,"clip":true},
   "encoding":{
    "x":{"field":"t","type":"quantitative","scale":{"domain":[-38,1385],"nice":false,"zero":false},
     "axis":{"orient":"bottom","values":[0,100,200,300,400,500,600,700,800,900,1000,1100,1200,1300],"format":"d","labelExpr":"datum.value%200==0?datum.label:''","tickSize":{"condition":{"test":"datum.value%200==0","value":5},"value":-4},"labelPadding":1,"labelFontSize":18,"title":"t / s","titleFontSize":23,"titleFontStyle":"italic","titleFontWeight":"bold","titlePadding":0}},
    "y":{"field":"v","type":"quantitative","scale":{"domain":[-7.5,0.47],"nice":false,"zero":false},
     "axis":{"orient":"left","values":[-7,-6,-5,-4,-3,-2,-1,0],"format":"d","tickSize":-6,"labelPadding":8,"labelFontSize":18,"labels":true,"title":"ln(I/I₀)","titleFontSize":22,"titleFontStyle":"italic","titleFontWeight":"bold","titlePadding":9}},
    "yError":{"field":"e"},
    "color":{"field":"s","type":"nominal","scale":{"domain":["0.94","0.64","0.47","0.33","0.19","0.084"],"range":["#000000","#0000ff","#008000","#ff8000","#808000","#800000"]},"legend":null}}},
  {"data":{"name":"c"},"mark":{"type":"point","filled":true,"strokeWidth":1.4,"opacity":1,"clip":true},
   "encoding":{
    "x":{"field":"t","type":"quantitative","axis":null},
    "y":{"field":"v","type":"quantitative","axis":{"orient":"left","values":[-7.5,-6.5,-5.5,-4.5,-3.5,-2.5,-1.5,-0.5],"labels":false,"tickSize":-3,"title":null}},
    "shape":{"field":"s","type":"nominal","scale":{"domain":["0.94","0.64","0.47","0.33","0.19","0.084"],"range":["square","circle","diamond","triangle-up","triangle-down","M0,-1L0.866,-0.5L0.866,0.5L0,1L-0.866,0.5L-0.866,-0.5Z"]},"legend":null},
    "fill":{"field":"s","type":"nominal","scale":{"domain":["0.94","0.64","0.47","0.33","0.19","0.084"],"range":["transparent","transparent","#008000","#ff8000","#808000","transparent"]},"legend":null},
    "stroke":{"field":"s","type":"nominal","scale":{"domain":["0.94","0.64","0.47","0.33","0.19","0.084"],"range":["#000000","#0000ff","#008000","#ff8000","#808000","#800000"]},"legend":null},
    "size":{"field":"s","type":"nominal","scale":{"domain":["0.94","0.64","0.47","0.33","0.19","0.084"],"range":[30,60,90,75,75,65]},"legend":null}}},
  {"data":{"name":"cfit"},"mark":{"type":"line","strokeWidth":3,"clip":true},
   "encoding":{
    "x":{"field":"t","type":"quantitative","axis":{"orient":"top","values":[0,100,200,300,400,500,600,700,800,900,1000,1100,1200,1300],"labels":false,"tickSize":{"condition":{"test":"datum.value%200==0","value":-6},"value":-3},"title":null}},
    "y":{"field":"v","type":"quantitative","axis":{"orient":"right","values":[-7.5,-7,-6.5,-6,-5.5,-5,-4.5,-4,-3.5,-3,-2.5,-2,-1.5,-1,-0.5,0],"labels":false,"tickSize":{"condition":{"test":"datum.value%1==0","value":-6},"value":-3},"title":null}},
    "color":{"field":"s","type":"nominal","scale":{"domain":["0.94","0.64","0.47","0.33","0.19","0.084"],"range":["#000000","#0000ff","#008000","#ff8000","#808000","#800000"]},"legend":null}}},
  {"data":{"name":"cleg"},"mark":{"type":"point","filled":true,"strokeWidth":1.6,"opacity":1},
   "encoding":{
    "x":{"field":"ts","type":"quantitative","axis":null},
    "y":{"field":"v","type":"quantitative","axis":null},
    "shape":{"field":"s","type":"nominal","legend":null},
    "fill":{"field":"s","type":"nominal","legend":null},
    "stroke":{"field":"s","type":"nominal","legend":null},
    "size":{"field":"s","type":"nominal","legend":null}}},
  {"data":{"name":"cleg"},"mark":{"type":"text","align":"left","fontSize":18,"fontWeight":"bold","color":"black"},
   "encoding":{"x":{"field":"tl","type":"quantitative","axis":null},"y":{"field":"v","type":"quantitative","axis":null},"text":{"field":"s"}}},
  {"data":{"values":[{"t":1130.6,"v":-2.295,"txt":"θ"}]},"mark":{"type":"text","fontSize":24,"fontWeight":"bold","fontStyle":"italic","color":"black"},
   "encoding":{"x":{"field":"t","type":"quantitative","axis":null},"y":{"field":"v","type":"quantitative","axis":null},"text":{"field":"txt"}}},
  {"data":{"values":[{"t":1218,"v":-2.559,"txt":"4-NTP"}]},"mark":{"type":"text","fontSize":14,"fontWeight":"bold","fontStyle":"italic","color":"black"},
   "encoding":{"x":{"field":"t","type":"quantitative","axis":null},"y":{"field":"v","type":"quantitative","axis":null},"text":{"field":"txt"}}},
  {"data":{"values":[{"t":1322,"v":-2.28,"txt":":"}]},"mark":{"type":"text","fontSize":22,"fontWeight":"bold","color":"black"},
   "encoding":{"x":{"field":"t","type":"quantitative","axis":null},"y":{"field":"v","type":"quantitative","axis":null},"text":{"field":"txt"}}},
  {"data":{"values":[{"t":-142,"v":0.255,"txt":"C"}]},"mark":{"type":"text","fontSize":21,"fontWeight":"bold","color":"black"},
   "encoding":{"x":{"field":"t","type":"quantitative","axis":null},"y":{"field":"v","type":"quantitative","axis":null},"text":{"field":"txt"}}}
 ]},
{"hconcat":[
 {"width":40,"height":247,"data":{"values":[{"a":1}]},"mark":{"type":"point","opacity":0},"view":{"stroke":null}},
 {"hconcat":[
  {"width":211,"height":247,
   "resolve":{"axis":{"x":"independent","y":"independent"}},
   "layer":[
    {"data":{"name":"d"},"mark":{"type":"errorbar","color":"#ff0000","ticks":true,"size":12,"thickness":1.5},
     "encoding":{
      "x":{"field":"th","type":"quantitative","scale":{"domain":[-0.005,1.055],"nice":false,"zero":false},
       "axis":{"orient":"bottom","values":[0,0.1,0.2,0.3,0.4,0.5,0.6,0.7,0.8,0.9,1.0],"format":".1f","labelExpr":"round(datum.value*10)%2==0?datum.label:''","tickSize":{"condition":{"test":"round(datum.value*10)%2==0","value":-5},"value":-3},"labelPadding":7,"labelFontSize":15,"title":null}},
      "y":{"field":"k","type":"quantitative","scale":{"domain":[0.00053,0.01502],"nice":false,"zero":false},
       "axis":{"orient":"left","values":[0.001,0.002,0.003,0.004,0.005,0.006,0.007,0.008,0.009,0.01,0.011,0.012,0.013,0.014,0.015],"format":".3f","labelExpr":"round(datum.value*1000)%2==0?datum.label:''","tickSize":{"condition":{"test":"round(datum.value*1000)%2==0","value":-5},"value":-3},"labelPadding":8,"labelFontSize":16,"title":"kₐₚₚ / s⁻¹","titleFontSize":24,"titleFontStyle":"italic","titleFontWeight":"bold","titlePadding":13}},
      "yError":{"field":"ke"}}},
    {"data":{"name":"dh"},"mark":{"type":"errorbar","color":"#ff0000","ticks":true,"size":8,"thickness":1.5},
     "encoding":{
      "x":{"field":"th","type":"quantitative","axis":{"orient":"top","values":[0,0.1,0.2,0.3,0.4,0.5,0.6,0.7,0.8,0.9,1.0],"labels":false,"tickSize":{"condition":{"test":"round(datum.value*10)%2==0","value":-5},"value":-3},"title":null}},
      "xError":{"field":"the"},
      "y":{"field":"k","type":"quantitative","axis":{"orient":"right","values":[0.001,0.002,0.003,0.004,0.005,0.006,0.007,0.008,0.009,0.01,0.011,0.012,0.013,0.014,0.015],"labels":false,"tickSize":{"condition":{"test":"round(datum.value*1000)%2==0","value":-5},"value":-3},"title":null}}}},
    {"data":{"name":"d"},"mark":{"type":"point","shape":"diamond","filled":true,"color":"#ff0000","size":150,"opacity":1},
     "encoding":{"x":{"field":"th","type":"quantitative","axis":null},"y":{"field":"k","type":"quantitative","axis":null}}},
    {"data":{"values":[{"th":-0.393,"k":0.01442,"txt":"D"}]},"mark":{"type":"text","fontSize":21,"fontWeight":"bold","color":"black"},
     "encoding":{"x":{"field":"th","type":"quantitative","axis":null},"y":{"field":"k","type":"quantitative","axis":null},"text":{"field":"txt"}}},
    {"data":{"values":[{"th":0.36,"k":-0.001,"txt":"θ"}]},"mark":{"type":"text","fontSize":19,"fontWeight":"bold","fontStyle":"italic","color":"black"},
     "encoding":{"x":{"field":"th","type":"quantitative","axis":null},"y":{"field":"k","type":"quantitative","axis":null},"text":{"field":"txt"}}},
    {"data":{"values":[{"th":0.525,"k":-0.00158,"txt":"4-NTP"}]},"mark":{"type":"text","fontSize":12,"fontWeight":"bold","fontStyle":"italic","color":"black"},
     "encoding":{"x":{"field":"th","type":"quantitative","axis":null},"y":{"field":"k","type":"quantitative","axis":null},"text":{"field":"txt"}}}
   ]},
  {"width":209,"height":247,
   "resolve":{"axis":{"x":"independent","y":"independent"}},
   "layer":[
    {"data":{"name":"e"},"mark":{"type":"errorbar","color":"#ff0000","ticks":true,"size":12,"thickness":1.5},
     "encoding":{
      "x":{"field":"th","type":"quantitative","scale":{"domain":[-0.005,1.045],"nice":false,"zero":false},
       "axis":{"orient":"bottom","values":[0,0.1,0.2,0.3,0.4,0.5,0.6,0.7,0.8,0.9,1.0],"format":".1f","labelExpr":"round(datum.value*10)%2==0?datum.label:''","tickSize":{"condition":{"test":"round(datum.value*10)%2==0","value":-5},"value":-3},"labelPadding":7,"labelFontSize":15,"title":null}},
      "y":{"field":"t0","type":"quantitative","scale":{"domain":[-4.9,277.8],"nice":false,"zero":false},
       "axis":{"orient":"left","values":[0,25,50,75,100,125,150,175,200,225,250,275],"format":"d","labelExpr":"datum.value%50==0?datum.label:''","tickSize":{"condition":{"test":"datum.value%50==0","value":-5},"value":-3},"labelPadding":8,"labelFontSize":14,"title":"t₀ / s","titleFontSize":24,"titleFontStyle":"italic","titleFontWeight":"bold","titlePadding":5}},
      "yError":{"field":"te"}}},
    {"data":{"name":"e"},"mark":{"type":"point","shape":"diamond","filled":true,"color":"#ff0000","size":150,"opacity":1},
     "encoding":{
      "x":{"field":"th","type":"quantitative","axis":{"orient":"top","values":[0,0.1,0.2,0.3,0.4,0.5,0.6,0.7,0.8,0.9,1.0],"labels":false,"tickSize":{"condition":{"test":"round(datum.value*10)%2==0","value":-5},"value":-3},"title":null}},
      "y":{"field":"t0","type":"quantitative","axis":{"orient":"right","values":[0,25,50,75,100,125,150,175,200,225,250,275],"labels":false,"tickSize":{"condition":{"test":"datum.value%50==0","value":-5},"value":-3},"title":null}}}},
    {"data":{"values":[{"th":-0.236,"t0":265.2,"txt":"E"}]},"mark":{"type":"text","fontSize":21,"fontWeight":"bold","color":"black"},
     "encoding":{"x":{"field":"th","type":"quantitative","axis":null},"y":{"field":"t0","type":"quantitative","axis":null},"text":{"field":"txt"}}},
    {"data":{"values":[{"th":0.412,"t0":-36.6,"txt":"θ"}]},"mark":{"type":"text","fontSize":19,"fontWeight":"bold","fontStyle":"italic","color":"black"},
     "encoding":{"x":{"field":"th","type":"quantitative","axis":null},"y":{"field":"t0","type":"quantitative","axis":null},"text":{"field":"txt"}}},
    {"data":{"values":[{"th":0.573,"t0":-46.1,"txt":"4-NTP"}]},"mark":{"type":"text","fontSize":12,"fontWeight":"bold","fontStyle":"italic","color":"black"},
     "encoding":{"x":{"field":"th","type":"quantitative","axis":null},"y":{"field":"t0","type":"quantitative","axis":null},"text":{"field":"txt"}}}
   ]}
 ],"spacing":61,"bounds":"flush"}
],"spacing":0,"bounds":"flush"}
]
}
